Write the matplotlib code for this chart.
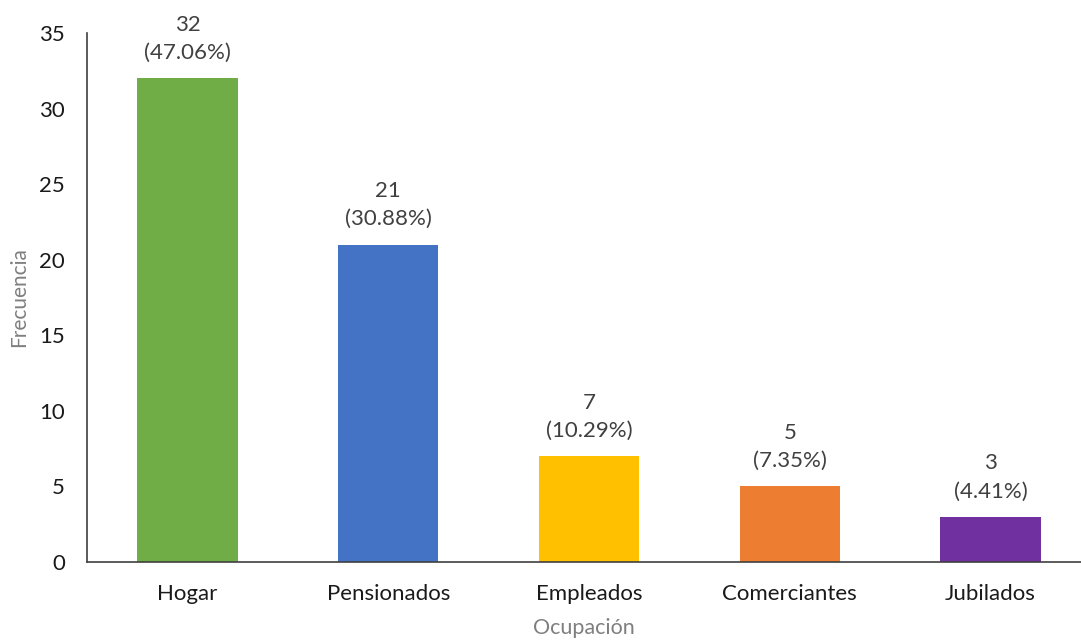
import matplotlib.pyplot as plt
import matplotlib.patheffects as pe

# data
ocupaciones = ['Hogar', 'Pensionados', 'Empleados', 'Comerciantes', 'Jubilados']
frecuencia = [32, 21, 7, 5, 3]
porcentaje = ['47.06%', '30.88%', '10.29%', '7.35%', '4.41%']
colores = ['#70AD47', '#4472C4', '#FFC000', '#ED7D31', '#7030A0']

plt.rcParams['font.family'] = ['Lato', 'DejaVu Sans']

fig = plt.figure(figsize=(10.81, 6.41), dpi=100)
ax = fig.add_axes([87 / 1081, 1 - 562 / 641, (1081 - 87) / 1081, (562 - 33) / 641])

x = list(range(len(ocupaciones)))
bars = ax.bar(x, frecuencia, width=0.5, color=colores, zorder=2)
for b in bars:
    b.set_path_effects([pe.SimplePatchShadow(offset=(0, -1), shadow_rgbFace='#999999', alpha=0.35),
                        pe.Normal()])

for xi, v, p in zip(x, frecuencia, porcentaje):
    ax.annotate(f'{v}\n({p})', (xi, v), xytext=(0, 11), textcoords='offset points',
                ha='center', va='bottom', fontsize=16, color='#404040', linespacing=1.5)

ax.set_xlim(-0.5, 4.45)
ax.set_ylim(0, 35)
ax.set_yticks(range(0, 36, 5))
ax.set_xticks(x)
ax.set_xticklabels(ocupaciones)
ax.tick_params(axis='both', length=0, labelsize=16, colors='#1a1a1a')
ax.tick_params(axis='y', pad=16)
ax.tick_params(axis='x', pad=16)

for s in ['top', 'right']:
    ax.spines[s].set_visible(False)
ax.spines['left'].set_color('#404040')
ax.spines['bottom'].set_color('#404040')
ax.spines['left'].set_linewidth(1.2)
ax.spines['bottom'].set_linewidth(1.2)

ax.set_ylabel('Frecuencia', fontsize=15, color='#7f7f7f', labelpad=7)
ax.set_xlabel('Ocupación', fontsize=15.5, color='#7f7f7f', labelpad=10)

fig.savefig('out.png', dpi=100)
